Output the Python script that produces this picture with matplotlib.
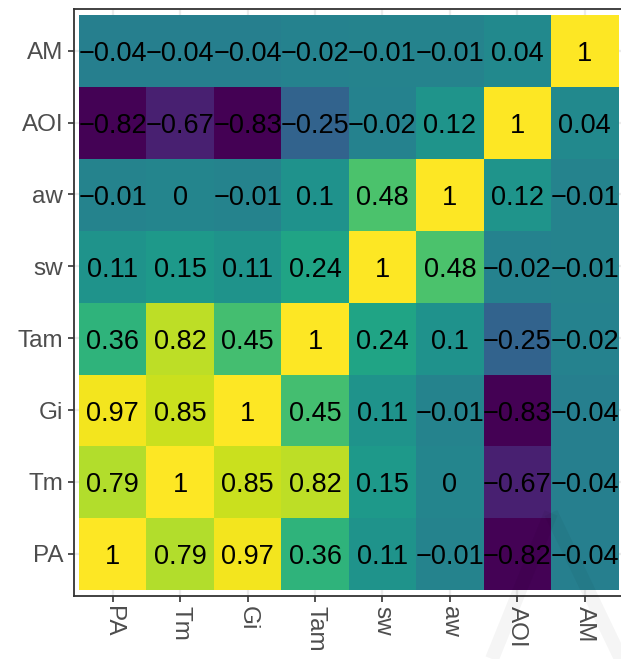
import numpy as np
import matplotlib
matplotlib.use("Agg")
import matplotlib.pyplot as plt
from matplotlib.colors import Normalize
from matplotlib.lines import Line2D
from matplotlib.transforms import offset_copy

plt.rcParams['font.family'] = ['Liberation Sans', 'DejaVu Sans']

# variable order along both axes (bottom-to-top on y, left-to-right on x)
variables = ["PA", "Tm", "Gi", "Tam", "sw", "aw", "AOI", "AM"]

# correlation rows, one per variable, columns in the same order
corr_PA  = [1.00, 0.79, 0.97, 0.36, 0.11, -0.01, -0.82, -0.04]
corr_Tm  = [0.79, 1.00, 0.85, 0.82, 0.15, 0.00, -0.67, -0.04]
corr_Gi  = [0.97, 0.85, 1.00, 0.45, 0.11, -0.01, -0.83, -0.04]
corr_Tam = [0.36, 0.82, 0.45, 1.00, 0.24, 0.10, -0.25, -0.02]
corr_sw  = [0.11, 0.15, 0.11, 0.24, 1.00, 0.48, -0.02, -0.01]
corr_aw  = [-0.01, 0.00, -0.01, 0.10, 0.48, 1.00, 0.12, -0.01]
corr_AOI = [-0.82, -0.67, -0.83, -0.25, -0.02, 0.12, 1.00, 0.04]
corr_AM  = [-0.04, -0.04, -0.04, -0.02, -0.01, -0.01, 0.04, 1.00]

corr = np.array([corr_PA, corr_Tm, corr_Gi, corr_Tam,
                 corr_sw, corr_aw, corr_AOI, corr_AM])

W, H = 621, 659
fig = plt.figure(figsize=(W / 100, H / 100), dpi=100)
fig.patch.set_facecolor("white")

# panel box in pixel coordinates (right edge runs past the canvas)
px_l, px_r, px_t, px_b = 73.5, 624.0, 8.5, 596.0
ax = fig.add_axes([px_l / W, (H - px_b) / H, (px_r - px_l) / W, (px_b - px_t) / H])

n = len(variables)
mx, my = 0.082, 0.087
ax.set_xlim(-0.5 - mx, n - 0.5 + mx)
ax.set_ylim(-0.5 - my, n - 0.5 + my)

# light grid behind the tiles
for i in range(n):
    ax.axvline(i, color="#EBEBEB", lw=1.6, zorder=0)
    ax.axhline(i, color="#EBEBEB", lw=1.6, zorder=0)

norm = Normalize(vmin=corr.min(), vmax=corr.max())
cmap = plt.get_cmap("viridis")
ax.imshow(corr, cmap=cmap, norm=norm, origin="lower", aspect="auto",
          extent=(-0.5, n - 0.5, -0.5, n - 0.5), interpolation="nearest", zorder=1)


def fmt(v):
    s = f"{v:g}"
    if s == "-0":
        s = "0"
    return s.replace("-", "\u2212")


# cell labels, nudged slightly down so the digits sit on the tile centre
label_tr = offset_copy(ax.transData, fig=fig, x=0, y=-3.5, units="dots")
for r in range(n):
    for c in range(n):
        ax.text(c, r, fmt(corr[r, c]), ha="center", va="center",
                fontsize=19.5, color="black", zorder=3, transform=label_tr)

ax.set_xticks(range(n))
ax.set_yticks(range(n))
ax.set_xticklabels(variables, rotation=270, ha="center", va="top")
ax.set_yticklabels(variables)
ax.tick_params(axis="both", length=4.5, width=1.2, color="#333333",
               labelcolor="#4D4D4D", labelsize=17.5, pad=3)
for sp in ax.spines.values():
    sp.set_color("#333333")
    sp.set_linewidth(1.3)

# faint watermark strokes over the lower-right corner
for (x0, y0, x1, y1) in [(492, 659, 551, 513), (551, 513, 621, 659)]:
    fig.add_artist(Line2D([x0 / W, x1 / W], [(H - y0) / H, (H - y1) / H],
                          transform=fig.transFigure, color="#000000",
                          alpha=0.04, lw=10, solid_capstyle="butt", zorder=10))

fig.savefig("out.png", dpi=100, facecolor="white")
